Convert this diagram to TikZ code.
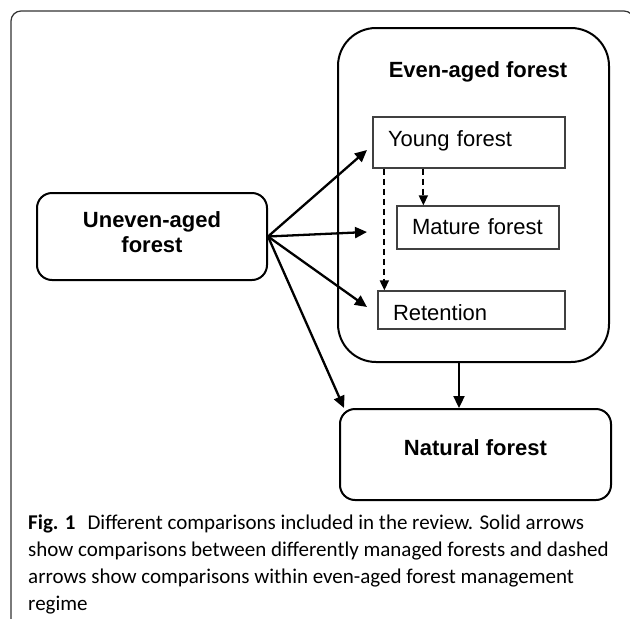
\documentclass[tikz,border=0pt]{standalone}
\usepackage{fontspec}
\setmainfont{Liberation Sans}
\newfontfamily\capfont{Carlito}
\usetikzlibrary{arrows.meta}

\tikzset{
  roundbox/.style={draw, line width=2pt, rounded corners=15pt, inner sep=0pt,
    align=center, font=\fontsize{22}{25}\selectfont\bfseries},
  plainbox/.style={draw=black!75, line width=1.3pt, inner xsep=15pt, inner ysep=0pt,
    align=left, font=\fontsize{22}{25}\selectfont},
  solidarrow/.style={line width=2.3pt, -{Triangle[length=12pt,width=11pt]}},
  dasharrow/.style={line width=1.8pt, dash pattern=on 6pt off 4pt,
    -{Triangle[length=10pt,width=9pt]}},
  capline/.style={anchor=base west, inner sep=0pt,
    font=\capfont\fontsize{21}{27}\selectfont}
}

\begin{document}
\begin{tikzpicture}[x=1pt, y=-1pt]

  \clip (0,0) rectangle (630,619);

  % Figure frame (open to the right and below)
  \draw[black!80, line width=1.2pt, rounded corners=10pt]
    (11,700) -- (11,11) -- (634,11) -- (634,700);

  % Boxes
  \node[roundbox, minimum width=230pt, minimum height=87pt, text depth=9pt]
    (uneven) at (152,236.5) {Uneven-aged\\forest};

  \node[roundbox, rounded corners=38pt, minimum width=271pt, minimum height=334pt]
    (even) at (473.5,195) {};
  \node[anchor=base, inner sep=0pt, font=\fontsize{22}{25}\selectfont\bfseries]
    (eventitle) at (478,77) {Even-aged forest};

  \node[plainbox, text width=162pt, minimum height=51pt, text height=12pt, text depth=5pt]
    (young) at (469,142.5) {Young forest};
  \node[plainbox, text width=132pt, minimum height=43pt, text height=18pt, text depth=5pt]
    (mature) at (478,227.5) {Mature forest};
  \node[plainbox, text width=157pt, minimum height=38pt, text height=26pt, text depth=5pt]
    (retention) at (471.5,310) {Retention};

  \node[roundbox, minimum width=271pt, minimum height=91pt, text height=16pt, text depth=15pt]
    (natural) at (475.5,454.5) {Natural forest};

  % Arrow ends inside the even-aged box
  \coordinate (toyoung) at (367,150);
  \coordinate (tomature) at (367,232);
  \coordinate (toretention) at (367,307);

  % Solid arrows
  \draw[solidarrow] (uneven.east) -- (toyoung);
  \draw[solidarrow] (uneven.east) -- (tomature);
  \draw[solidarrow] (uneven.east) -- (toretention);
  \draw[solidarrow] (uneven.east) -- ([xshift=5pt]natural.north west);
  \draw[solidarrow] ([xshift=-14.5pt]even.south) -- ([xshift=-14.5pt]even.south |- natural.north);

  % Dashed arrows
  \draw[dasharrow] ([xshift=12pt]young.south west) -- ([xshift=12pt]young.south west |- retention.north);
  \draw[dasharrow] ([xshift=51pt]young.south west) -- ([xshift=51pt]young.south west |- mature.north);

  % Caption
  \node[capline] (cap1) at (28,529)
    {\textbf{Fig. 1}\hspace{12pt}Different comparisons included in the review. Solid arrows};
  \node[capline] (cap2) at (28,556)
    {show comparisons between differently managed forests and dashed};
  \node[capline] (cap3) at (28,583)
    {arrows show comparisons within even-aged forest management};
  \node[capline] (cap4) at (28,610) {regime};

\end{tikzpicture}
\end{document}
